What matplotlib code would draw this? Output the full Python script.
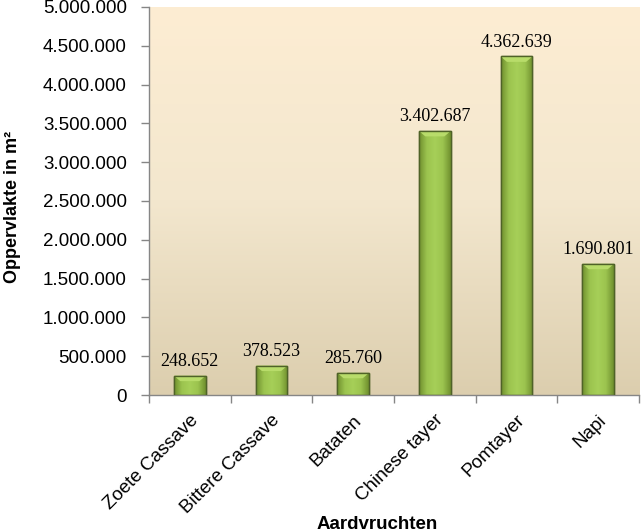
import numpy as np
import matplotlib.pyplot as plt
from matplotlib.colors import LinearSegmentedColormap
from matplotlib.ticker import FuncFormatter

# data
gewassen = ['Zoete Cassave', 'Bittere Cassave', 'Bataten', 'Chinese tayer', 'Pomtayer', 'Napi']
oppervlakte = [248652, 378523, 285760, 3402687, 4362639, 1690801]


def dotfmt(v, pos=None):
    return f'{int(round(v)):,}'.replace(',', '.')


fig = plt.figure(figsize=(6.43, 5.29), dpi=100)
ax = fig.add_axes([0.2317, 0.2533, 0.7621, 0.7335])

x = np.arange(len(gewassen))
ax.set_xlim(-0.5, len(gewassen) - 0.5)
ax.set_ylim(0, 5000000)

# background gradient of the plot area
bg = LinearSegmentedColormap.from_list('bg', ['#DCCEAE', '#F3E7CE', '#FDEDD3'])
ax.imshow(np.linspace(0, 1, 256).reshape(-1, 1), cmap=bg, origin='lower', aspect='auto',
          extent=[0, 1, 0, 1], transform=ax.transAxes, zorder=0)

bars = ax.bar(x, oppervlakte, width=0.39, color='#92B84A', edgecolor='#4F6228', linewidth=1.0, zorder=2)

# horizontal shading on each bar
barcm = LinearSegmentedColormap.from_list('bar', ['#6F8F2E', '#9CC44F', '#A6CF58', '#9CC44F', '#6F8F2E'])
grad = np.linspace(0, 1, 128).reshape(1, -1)
for b in bars:
    x0, y0 = b.get_x(), b.get_y()
    w, h = b.get_width(), b.get_height()
    im = ax.imshow(grad, cmap=barcm, aspect='auto', extent=[x0, x0 + w, y0, y0 + h], zorder=2.5)
    im.set_clip_path(b)
    # light bevel at the top
    ax.fill([x0, x0 + w, x0 + w * 0.8, x0 + w * 0.2], [y0 + h, y0 + h, y0 + h - 70000, y0 + h - 70000],
            color='#B8DC6A', zorder=2.6, lw=0)
    ax.bar(b.get_x() + w / 2, h, width=w, fill=False, edgecolor='#4F6228', linewidth=1.0, zorder=3)

for xi, v in zip(x, oppervlakte):
    ax.annotate(dotfmt(v), (xi, v), xytext=(0, 4), textcoords='offset points', ha='center', va='bottom',
                fontsize=13, family='Liberation Serif', color='black', zorder=4)

ax.yaxis.set_major_formatter(FuncFormatter(dotfmt))
ax.set_yticks(np.arange(0, 5000001, 500000))
ax.set_xticks(x)
ax.set_xticklabels(gewassen, rotation=45, ha='right', rotation_mode='anchor', fontsize=13.5,
                   family='Liberation Sans')
ax.set_xticks(np.arange(-0.5, len(gewassen)), minor=True)
ax.tick_params(axis='x', which='major', length=0, pad=12)
ax.tick_params(axis='x', which='minor', length=6, color='#868686', width=1)
ax.tick_params(axis='y', length=6, color='#868686', width=1, labelsize=13.5, pad=10)
for lab in ax.get_yticklabels():
    lab.set_family('Liberation Sans')

for s in ['top', 'right']:
    ax.spines[s].set_visible(False)
for s in ['left', 'bottom']:
    ax.spines[s].set_color('#868686')
    ax.spines[s].set_linewidth(1)

ax.set_ylabel('Oppervlakte in m²', fontsize=13, fontweight='bold', family='Liberation Sans')
ax.set_xlabel('Aardvruchten', fontsize=13.5, fontweight='bold', family='Liberation Sans', va='top')
ax.yaxis.set_label_coords(-0.262, 0.485)
ax.xaxis.set_label_coords(0.465, -0.312)

fig.savefig('out.png', dpi=100)
